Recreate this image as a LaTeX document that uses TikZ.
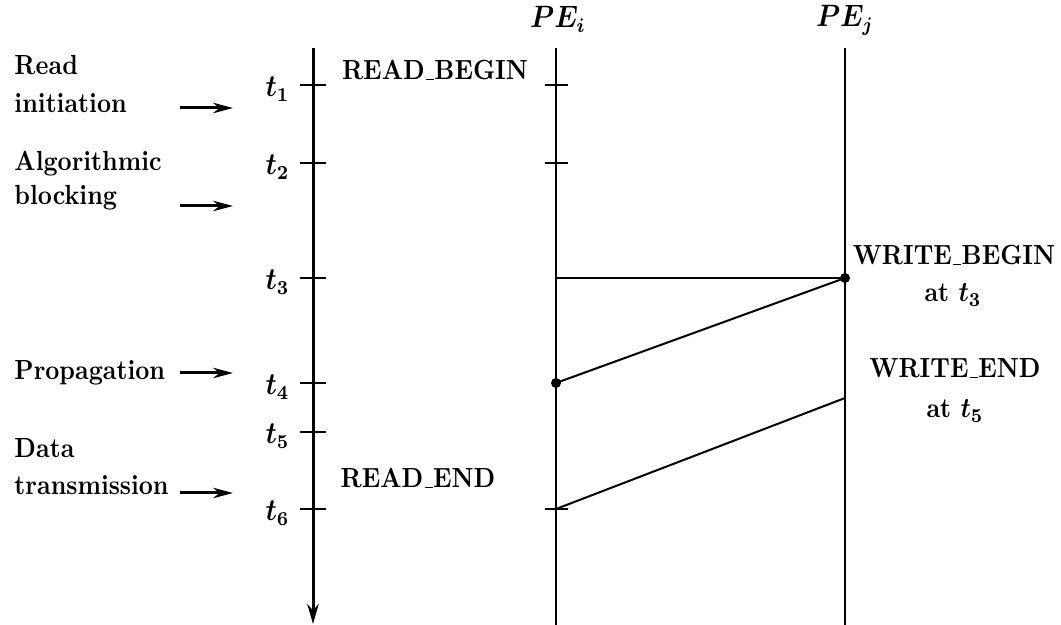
\documentclass[tikz,border=0pt]{standalone}
\usepackage{bm}
\usetikzlibrary{arrows.meta}
\newcommand\us{\kern.06em\vbox{\hrule width .32em height .45pt}\kern.02em}
\newcommand\tall[1]{\scalebox{1}[1.13]{#1}}
\begin{document}
\begin{tikzpicture}[x=0.4pt,y=-0.4pt,
  lbl/.style={font=\fontsize{9.8}{11}\selectfont\bfseries\boldmath, inner sep=0pt},
  pelbl/.style={font=\fontsize{10.5}{12}\selectfont\bfseries\boldmath, inner sep=0pt, anchor=base},
  tlbl/.style={font=\fontsize{10.5}{12}\selectfont\boldmath, inner sep=0pt, anchor=east},
  axis/.style={line width=1.2pt},
  life/.style={line width=0.85pt},
  tick/.style={line width=0.85pt},
  msg/.style={line width=0.8pt},
  phase/.style={line width=1.2pt, -{Stealth[length=8pt,width=4.2pt]}},
  dot/.style={circle, fill=black, inner sep=0pt, minimum size=4pt}]
\useasboundingbox (0,0) rectangle (1061,625);

% lifelines
\coordinate (axtop) at (313,48);
\coordinate (axbot) at (313,624);
\coordinate (pitop) at (556,48);
\coordinate (pibot) at (556,625);
\coordinate (pjtop) at (845,48);
\coordinate (pjbot) at (845,625);
\draw[axis, -{Stealth[length=8pt,width=4.6pt]}] (axtop) -- (axbot);
\draw[life] (pitop) -- (pibot);
\draw[life] (pjtop) -- (pjbot);

\node[pelbl] (pei) at (558,28) {\tall{$\bm{PE_{i}}$}};
\node[pelbl] (pej) at (845,27) {\tall{$\bm{PE_{j}}$}};

% time ticks
\foreach \n/\y in {1/85,2/163,3/278,4/383,5/432,6/509}{
  \draw[tick] (300,\y) -- (326,\y);
  \node[tlbl] (t\n) at (290,\y+4) {\tall{$t_{\n}$}};
}
% ticks on PE_i
\foreach \y in {85,163,509}{
  \draw[tick] (545,\y) -- (568,\y);
}

% messages
\node[dot] (wb) at (845,278) {};
\node[dot] (pr) at (556,383) {};
\coordinate (pi3) at (556,278);
\coordinate (we) at (845,398);
\coordinate (re) at (556,509);
\draw[msg] (pi3) -- (wb.center);
\draw[msg] (wb.center) -- (pr.center);
\draw[msg] (we) -- (re);

% event labels
\node[lbl, anchor=base] (rbeg) at (435,80) {\tall{READ\us BEGIN}};
\node[lbl, anchor=base] (rend) at (418,488) {\tall{READ\us END}};
\node[lbl, anchor=base] (wbeg) at (954,265) {\tall{WRITE\us BEGIN}};
\node[lbl, anchor=base] (wbat) at (953,302) {\tall{at $t_3$}};
\node[lbl, anchor=base] (wend) at (955,378) {\tall{WRITE\us END}};
\node[lbl, anchor=base] (weat) at (955,418) {\tall{at $t_5$}};

% phase labels
\node[lbl, anchor=base west] (ph1a) at (14,75) {\tall{Read}};
\node[lbl, anchor=base west] (ph1b) at (14,113) {\tall{initiation}};
\node[lbl, anchor=base west] (ph2a) at (14,171) {\tall{Algorithmic}};
\node[lbl, anchor=base west] (ph2b) at (14,205) {\tall{blocking}};
\node[lbl, anchor=base west] (ph3) at (14,380) {\tall{Propagation}};
\node[lbl, anchor=base west] (ph4a) at (14,458) {\tall{Data}};
\node[lbl, anchor=base west] (ph4b) at (14,495) {\tall{transmission}};

\coordinate (a1s) at (180,108); \coordinate (a1e) at (233,108);
\coordinate (a2s) at (180,206); \coordinate (a2e) at (233,206);
\coordinate (a3s) at (180,373); \coordinate (a3e) at (233,373);
\coordinate (a4s) at (180,493); \coordinate (a4e) at (233,493);
\draw[phase] (a1s) -- (a1e);
\draw[phase] (a2s) -- (a2e);
\draw[phase] (a3s) -- (a3e);
\draw[phase] (a4s) -- (a4e);
\end{tikzpicture}
\end{document}
